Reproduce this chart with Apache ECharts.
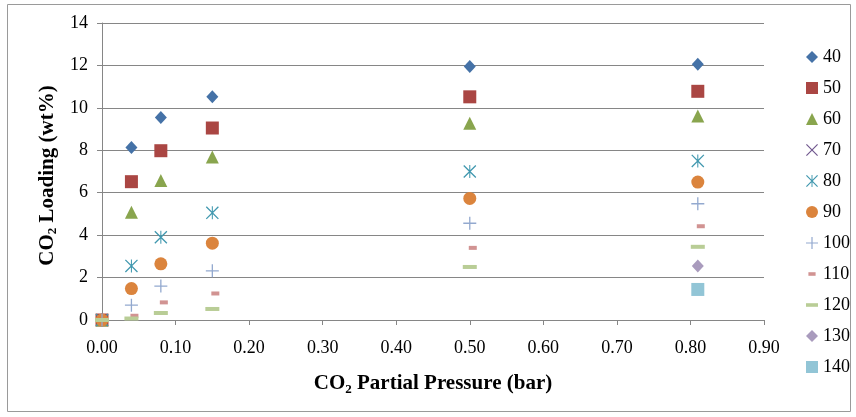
<!DOCTYPE html>
<html>
<head>
<meta charset="utf-8">
<script src="https://cdn.jsdelivr.net/npm/echarts@6/dist/echarts.min.js"></script>
<style>
    html, body { margin: 0; padding: 0; background: #fff; }
    #chart { width: 856px; height: 417px; }
</style>
</head>
<body>
<div id="chart"></div>
<script>
// CO2 partial pressure (bar) - x values
var pressure = [0, 0.04, 0.08, 0.15, 0.5, 0.81];
// legend names (temperature)
var temps = ['40', '50', '60', '70', '80', '90', '100', '110', '120', '130', '140'];
// CO2 loading (wt%) per temperature, aligned with pressure (null = no point)
var load40 = [0, 8.13, 9.55, 10.52, 11.95, 12.05];
var load50 = [0, 6.52, 7.98, 9.05, 10.52, 10.78];
var load60 = [0, 5.08, 6.58, 7.68, 9.27, 9.62];
var load70 = [0, null, null, null, null, null];
var load80 = [0, 2.55, 3.9, 5.05, 7.0, 7.5];
var load90 = [0, 1.48, 2.65, 3.62, 5.73, 6.5];
var load100 = [0, 0.7, 1.6, 2.32, 4.56, 5.48];
var load110 = [0, 0.2, 0.83, 1.25, 3.4, 4.42];
var load120 = [0, 0.07, 0.33, 0.52, 2.5, 3.45];
var load130 = [null, null, null, null, null, 2.54];
var load140 = [null, null, null, null, null, 1.44];
// x axis tick values 0.00 .. 0.90, y axis 0 .. 14

var font = '"Liberation Serif", "Times New Roman", serif';
var grey = '#868686';

// marker shapes (Excel style)
var plusPath = 'path://M4.5,0H5.5V4.5H10V5.5H5.5V10H4.5V5.5H0V4.5H4.5Z';
var crossPath = 'path://M0,0.7L0.7,0L10,9.3L9.3,10ZM9.3,0L10,0.7L0.7,10L0,9.3Z';
var starPath = 'path://M0,0.7L0.7,0L10,9.3L9.3,10ZM9.3,0L10,0.7L0.7,10L0,9.3ZM4.6,0H5.4V10H4.6Z';
var shortDash = 'path://M0,0M10,10M2,3.5H8V6.5H2Z';
var longDash = 'path://M0,0M10,10M0,3.5H10V6.5H0Z';

function pts(vals) {
    var out = [];
    for (var i = 0; i < vals.length; i++) {
        if (vals[i] !== null) out.push([pressure[i], vals[i]]);
    }
    return out;
}

var seriesDefs = [
    { vals: load40, color: '#4572A7', symbol: 'diamond', size: [12, 13] },
    { vals: load50, color: '#AA4643', symbol: 'rect', size: 13 },
    { vals: load60, color: '#89A54E', symbol: 'triangle', size: 13 },
    { vals: load70, color: '#71588F', symbol: crossPath, size: 11 },
    { vals: load80, color: '#4198AF', symbol: starPath, size: 13 },
    { vals: load90, color: '#DB843D', symbol: 'circle', size: 13 },
    { vals: load100, color: '#93A9CF', symbol: plusPath, size: 13 },
    { vals: load110, color: '#D19392', symbol: 'rect', size: [8, 4], offset: [3, 0], icon: shortDash },
    { vals: load120, color: '#B9CD96', symbol: 'rect', size: [14, 4], icon: longDash },
    { vals: load130, color: '#A99BBD', symbol: 'diamond', size: [12, 13] },
    { vals: load140, color: '#92C5D6', symbol: 'rect', size: 13 }
];

var series = [];
var legendData = [];
for (var i = 0; i < seriesDefs.length; i++) {
    var d = seriesDefs[i];
    series.push({
        type: 'scatter',
        name: temps[i],
        data: pts(d.vals),
        symbol: d.symbol,
        symbolSize: d.size,
        symbolOffset: d.offset || [0, 0],
        itemStyle: { color: d.color, opacity: 1 },
        emphasis: { disabled: true }
    });
    legendData.push(d.icon ? { name: temps[i], icon: d.icon } : { name: temps[i] });
}

var nameRich = {
    a: { fontFamily: font, fontSize: 21, fontWeight: 'bold', color: '#000' },
    s: { fontFamily: font, fontSize: 13, fontWeight: 'bold', color: '#000', padding: [11, 0, 0, 0] }
};

var chart = echarts.init(document.getElementById('chart'));
chart.setOption({
    animation: false,
    backgroundColor: '#fff',
    textStyle: { fontFamily: font },
    graphic: [{
        type: 'rect',
        shape: { x: 7.5, y: 4.5, width: 843, height: 407 },
        style: { fill: 'none', stroke: '#9a9a9a', lineWidth: 1 },
        silent: true
    }],
    grid: { left: 102, right: 92, top: 23, bottom: 97 },
    legend: {
        orient: 'vertical',
        left: 806,
        top: 48,
        padding: 0,
        itemWidth: 12,
        itemHeight: 12,
        itemGap: 13,
        data: legendData,
        textStyle: { fontFamily: font, fontSize: 18, color: '#000' }
    },
    xAxis: {
        type: 'value',
        min: 0,
        max: 0.9,
        interval: 0.1,
        name: '{a|CO}{s|2}{a| Partial Pressure (bar)}',
        nameLocation: 'middle',
        nameGap: 52,
        nameTextStyle: { rich: nameRich },
        axisLine: { show: true, lineStyle: { color: grey } },
        axisTick: { show: true, length: 5, lineStyle: { color: grey } },
        axisLabel: {
            margin: 19,
            fontFamily: font,
            fontSize: 18,
            color: '#000',
            formatter: function (v) { return v.toFixed(2); }
        },
        splitLine: { show: false }
    },
    yAxis: {
        type: 'value',
        min: 0,
        max: 14,
        interval: 2,
        name: '{a|CO}{s|2}{a| Loading (wt%)}',
        nameLocation: 'middle',
        nameGap: 41,
        nameTextStyle: { rich: nameRich, padding: [0, 8, 0, 0] },
        axisLine: { show: true, lineStyle: { color: grey } },
        axisTick: { show: true, length: 5, lineStyle: { color: grey } },
        axisLabel: { margin: 14, fontFamily: font, fontSize: 18, color: '#000' },
        splitLine: { show: true, lineStyle: { color: grey, width: 1 } }
    },
    series: series
});
</script>
</body>
</html>
